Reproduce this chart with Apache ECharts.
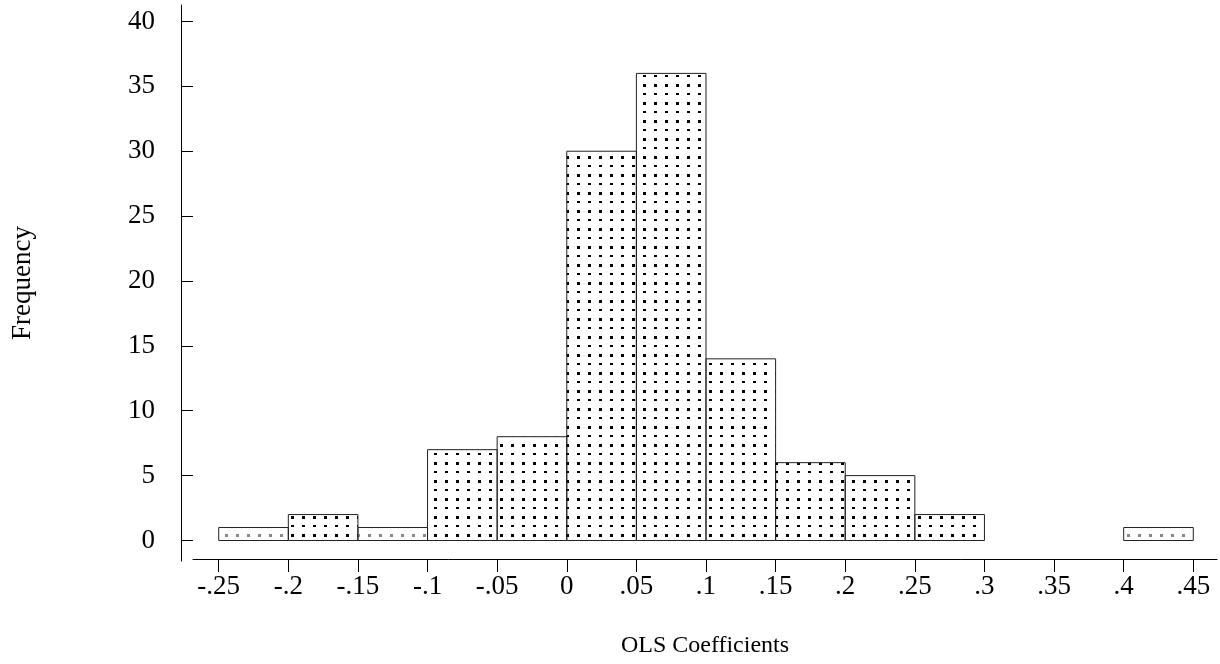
<!DOCTYPE html>
<html lang="en">
<head>
    <meta charset="UTF-8">
    <title>OLS Coefficients</title>
    <script src="https://cdn.jsdelivr.net/npm/echarts@6/dist/echarts.min.js"></script>
    <style>
        html, body { margin: 0; padding: 0; background: #fff; }
    </style>
</head>
<body>
<div id="main" style="width: 1220px;height: 664px"></div>
<script type="text/javascript">
    // bins: start of each bin, width .05
    var binStarts = [-0.25, -0.2, -0.15, -0.1, -0.05, 0, 0.05, 0.1, 0.15, 0.2, 0.25, 0.3, 0.35, 0.4];
    var frequency = [1, 2, 1, 7, 8, 30, 36, 14, 6, 5, 2, 0, 0, 1];
    var binWidth = 0.05;

    var xTickValues = [-0.25, -0.2, -0.15, -0.1, -0.05, 0, 0.05, 0.1, 0.15, 0.2, 0.25, 0.3, 0.35, 0.4, 0.45];
    var xTickLabels = ['-.25', '-.2', '-.15', '-.1', '-.05', '0', '.05', '.1', '.15', '.2', '.25', '.3', '.35', '.4', '.45'];
    var yTickValues = [0, 5, 10, 15, 20, 25, 30, 35, 40];

    // dotted fill like the stata pattern
    function makeDots(color) {
        var c = document.createElement('canvas');
        c.width = 11;
        c.height = 18;
        var ctx = c.getContext('2d');
        ctx.fillStyle = color;
        ctx.fillRect(5, 3, 3, 2);
        ctx.fillRect(5, 12, 3, 3);
        return c;
    }
    var darkDots = makeDots('#000');
    var greyDots = makeDots('#888');

    var data = [];
    for (var i = 0; i < binStarts.length; i++) {
        if (frequency[i] > 0) data.push([binStarts[i], frequency[i]]);
    }

    var myChart = echarts.init(document.getElementById('main'));
    var font = "'Liberation Serif', 'Times New Roman', serif";

    var option = {
        animation: false,
        grid: { left: 193, right: 3, top: 5, bottom: 103 },
        xAxis: {
            type: 'value',
            min: -0.26846,
            max: 0.46703,
            offset: -2,
            splitLine: { show: false },
            axisLine: { onZero: false, lineStyle: { color: '#000', width: 1 } },
            axisTick: {
                length: 13,
                lineStyle: { color: '#000' },
                customValues: xTickValues
            },
            axisLabel: {
                margin: 14,
                color: '#000',
                fontFamily: font,
                fontSize: 27,
                customValues: xTickValues,
                formatter: function (v) {
                    for (var k = 0; k < xTickValues.length; k++) {
                        if (Math.abs(xTickValues[k] - v) < 1e-9) return xTickLabels[k];
                    }
                    return '';
                }
            },
            name: 'OLS Coefficients',
            nameLocation: 'middle',
            nameGap: 75,
            nameTextStyle: { color: '#000', fontFamily: font, fontSize: 24 }
        },
        yAxis: {
            type: 'value',
            min: -1.58,
            max: 41.27,
            offset: 12,
            splitLine: { show: false },
            axisLine: { show: true, onZero: false, lineStyle: { color: '#000', width: 1 } },
            axisTick: {
                show: true,
                inside: true,
                length: 12,
                lineStyle: { color: '#000' },
                customValues: yTickValues
            },
            axisLabel: {
                margin: 26,
                color: '#000',
                fontFamily: font,
                fontSize: 27,
                customValues: yTickValues
            },
            name: 'Frequency',
            nameLocation: 'middle',
            nameRotate: 90,
            nameGap: 145,
            nameTextStyle: { color: '#000', fontFamily: font, fontSize: 27 }
        },
        series: [{
            type: 'custom',
            data: data,
            clip: false,
            renderItem: function (params, api) {
                var x0 = api.value(0);
                var y = api.value(1);
                var topLeft = api.coord([x0, y]);
                var bottomRight = api.coord([x0 + binWidth, 0]);
                return {
                    type: 'rect',
                    shape: {
                        x: topLeft[0],
                        y: topLeft[1],
                        width: bottomRight[0] - topLeft[0],
                        height: bottomRight[1] - topLeft[1]
                    },
                    style: {
                        fill: { image: y <= 1 ? greyDots : darkDots, repeat: 'repeat' },
                        stroke: '#222',
                        lineWidth: 1
                    }
                };
            }
        }]
    };

    myChart.setOption(option);
</script>
</body>
</html>
